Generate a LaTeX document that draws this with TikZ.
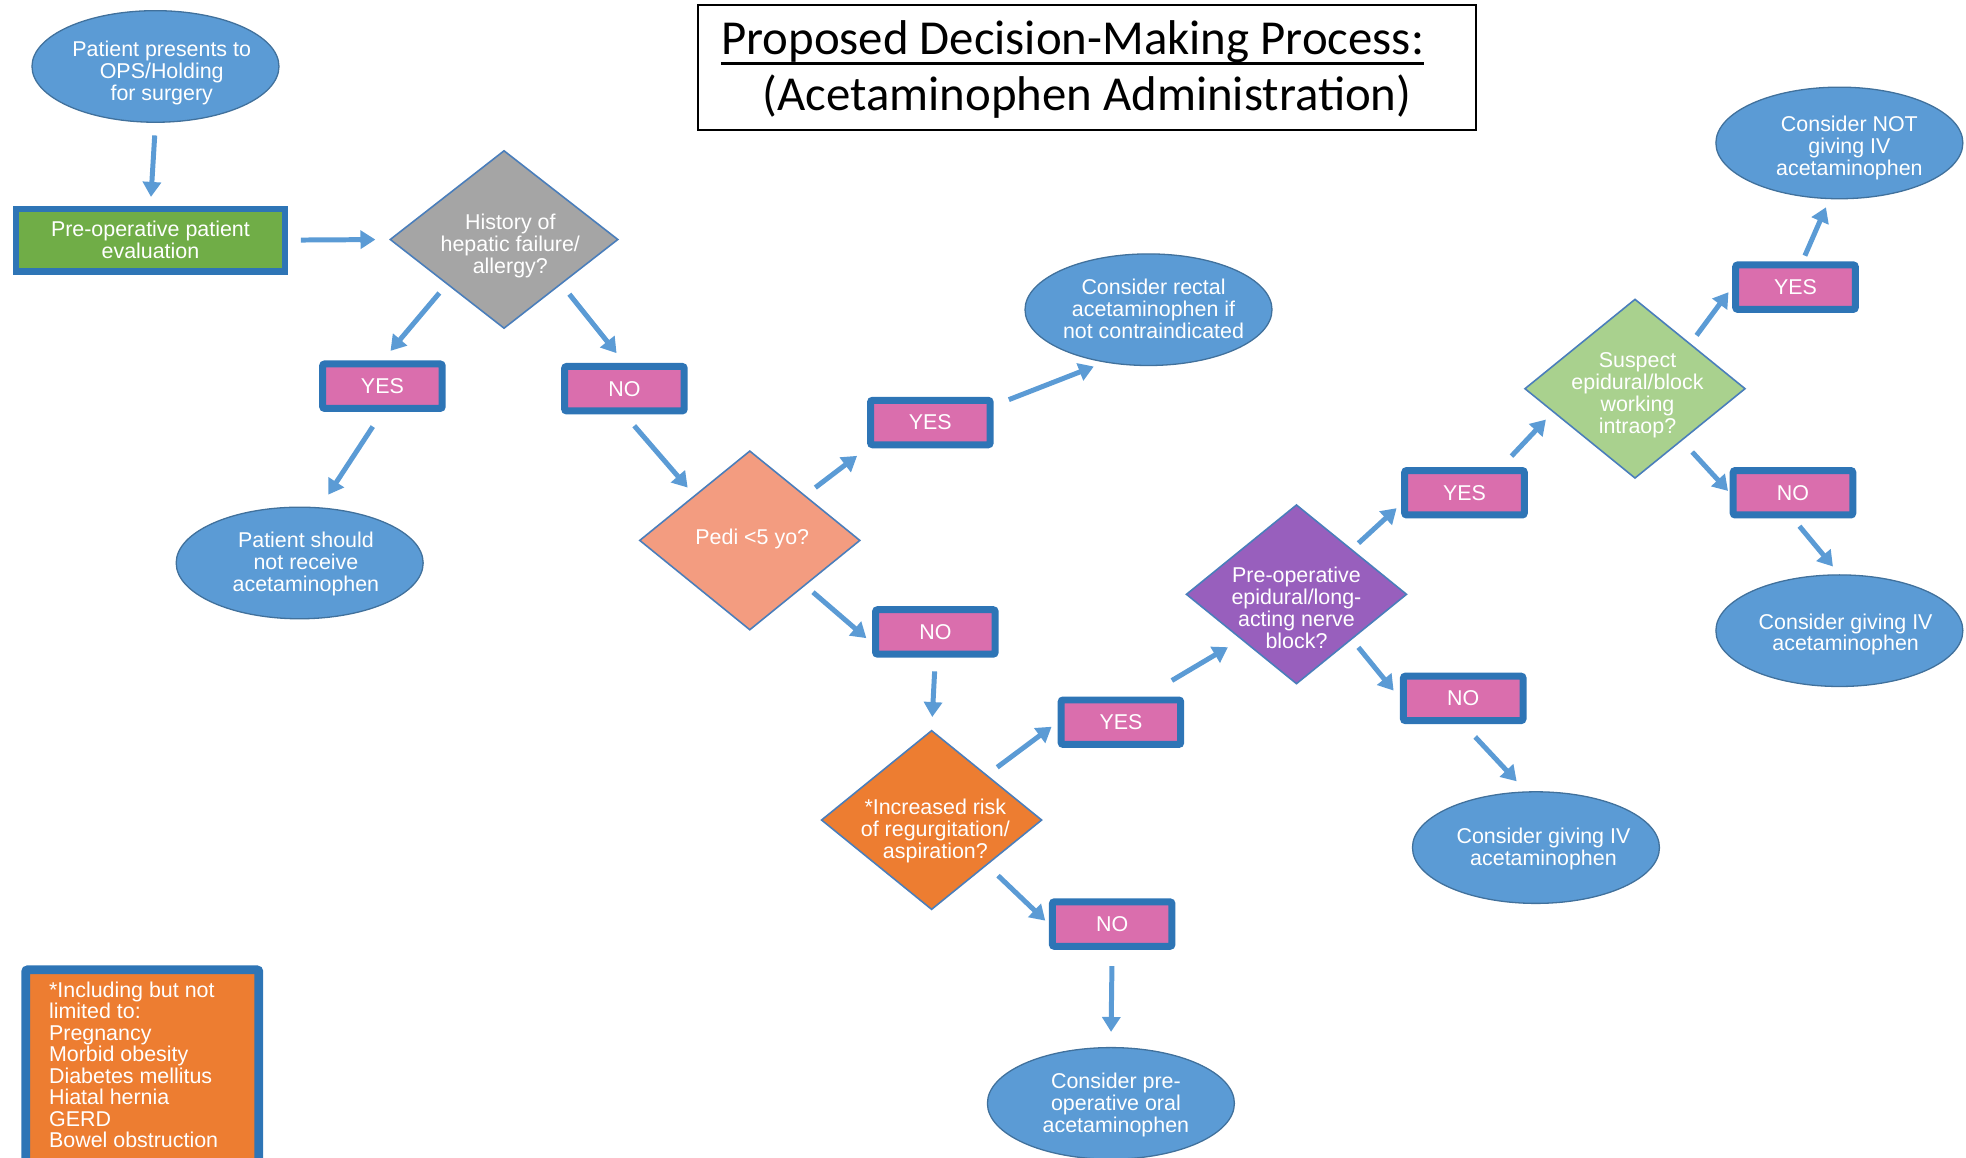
\documentclass[tikz,border=0pt]{standalone}
\usepackage{fontspec}
\setmainfont{Liberation Sans}
\newfontfamily\titlefont{Carlito}
\usetikzlibrary{shapes.geometric,arrows.meta}
\definecolor{ellblue}{HTML}{5B9BD5}
\definecolor{ellline}{HTML}{41719C}
\definecolor{boxblue}{HTML}{2E75B6}
\definecolor{boxpink}{HTML}{DA6EAD}
\definecolor{evgreen}{HTML}{70AD47}
\definecolor{dgray}{HTML}{A5A5A5}
\definecolor{salmon}{HTML}{F39C80}
\definecolor{orng}{HTML}{ED7D31}
\definecolor{purp}{HTML}{985FBD}
\definecolor{lgreen}{HTML}{A9D18E}
\definecolor{arrowblue}{HTML}{5B9BD5}
\definecolor{dline}{HTML}{4A7EBB}
\tikzset{
  txt/.style={text=white, align=center, font=\fontsize{21.5pt}{22pt}\selectfont, inner sep=0pt},
  ell/.style={ellipse, fill=ellblue, draw=ellline, line width=1.3pt, minimum width=247.9pt, minimum height=112pt, inner sep=0pt},
  dia/.style={diamond, draw=dline, line width=1.6pt, inner sep=0pt, minimum width=221.5pt, minimum height=180pt},
  yn/.style={rectangle, rounded corners=2pt, fill=boxpink, draw=boxblue, line width=7pt, minimum width=120pt, minimum height=44.6pt, inner sep=0pt, text=white, font=\fontsize{21.5pt}{22pt}\selectfont},
  greenbox/.style={rectangle, fill=evgreen, draw=boxblue, line width=6.3pt, minimum width=270.6pt, minimum height=62.9pt, inner sep=0pt, text=white, align=center, font=\fontsize{21.5pt}{22pt}\selectfont},
  legendbox/.style={rectangle, rounded corners=2pt, fill=orng, draw=boxblue, line width=8.8pt, minimum width=234pt, minimum height=239pt, inner sep=0pt},
  titlef/.style={font=\titlefont\fontsize{49pt}{56pt}\selectfont, inner sep=0pt, text=black},
  arr/.style={draw=arrowblue, line width=5pt, -{Triangle[length=15pt,width=18pt]}},
}
\begin{document}
\begin{tikzpicture}[x=1.2585pt, y=-1.2585pt]
\useasboundingbox (0,0) rectangle (1568,923);

% title
\node[draw=black, line width=2pt, minimum width=780.3pt, minimum height=125.9pt, inner sep=0pt] (titlebox) at (867,54) {};
\node[titlef, anchor=base] (title1) at (855.5,43.5) {Proposed Decision-Making Process:};
\node[titlef, anchor=base] (title2) at (867,88.5) {(Acetaminophen Administration)};
\draw[line width=3pt] (title1.south west) -- (title1.south east);

% ellipses
\node[ell] (start) at (124,53) {};
\node[txt] (startT) at (129,58) {Patient presents to\\OPS/Holding\\for surgery};
\node[ell] (nosafe) at (239,449) {};
\node[txt] (nosafeT) at (244,450) {Patient should\\not receive\\acetaminophen};
\node[ell] (rectal) at (916,247) {};
\node[txt] (rectalT) at (920,246) {Consider rectal\\acetaminophen if\\not contraindicated};
\node[ell] (oral) at (886,880) {};
\node[txt] (oralT) at (890,881) {Consider pre-\\operative oral\\acetaminophen};
\node[ell] (iv1) at (1225,676) {};
\node[txt] (iv1T) at (1231,677) {Consider giving IV\\acetaminophen};
\node[ell] (notiv) at (1467,114) {};
\node[txt] (notivT) at (1475,118) {Consider NOT\\giving IV\\acetaminophen};
\node[ell] (iv2) at (1467,503) {};
\node[txt] (iv2T) at (1472,506) {Consider giving IV\\acetaminophen};

% process box
\node[greenbox] (eval) at (120,191.5) {Pre-operative patient\\evaluation};

% diamonds
\node[dia, fill=dgray, minimum width=229pt, minimum height=178.7pt] (gray) at (402,191) {};
\node[txt] (grayT) at (407,196) {History of\\hepatic failure/\\allergy?};
\node[dia, fill=salmon] (pedi) at (598,431) {};
\node[txt] (pediT) at (600,430) {Pedi <5 yo?};
\node[dia, fill=orng] (risk) at (743,654) {};
\node[txt] (riskT) at (746,663) {*Increased risk\\of regurgitation/\\aspiration?};
\node[dia, fill=purp] (epi) at (1034,474) {};
\node[txt] (epiT) at (1034,485) {Pre-operative\\epidural/long-\\acting nerve\\block?};
\node[dia, fill=lgreen] (susp) at (1304,310) {};
\node[txt] (suspT) at (1306,315) {Suspect\\epidural/block\\working\\intraop?};

% yes / no boxes
\node[yn] (y1) at (305,308) {YES};
\node[yn] (n1) at (498,310) {NO};
\node[yn] (y2) at (742,337) {YES};
\node[yn] (n2) at (746,504) {NO};
\node[yn] (y3) at (894,576) {YES};
\node[yn] (n3) at (887,737) {NO};
\node[yn] (y4) at (1168,393) {YES};
\node[yn] (n4) at (1167,557) {NO};
\node[yn] (y5) at (1432,229) {YES};
\node[yn] (n5) at (1430,393) {NO};

% legend
\node[legendbox, anchor=north west] (legend) at (17,770) {};
\node[txt, align=left, anchor=north west, font=\fontsize{21.5pt}{21.5pt}\selectfont] (legendT) at (39,783) {*Including but not\\limited to:\\Pregnancy\\Morbid obesity\\Diabetes mellitus\\Hiatal hernia\\GERD\\Bowel obstruction};

% connectors
\draw[arr, shorten <=12.6pt, shorten >=8.8pt] (start.south) -- (eval.north);
\draw[arr, shorten <=12.6pt, shorten >=13.8pt] (eval.east) -- (gray.west);
\draw[arr, shorten <=11.3pt, shorten >=12.6pt] (gray.south west) -- (y1.north);
\draw[arr, shorten <=12.6pt, shorten >=12.6pt] (gray.south east) -- (n1.north);
\draw[arr, shorten <=17.6pt, shorten >=15.1pt] (y1.south) -- (nosafe.70);
\draw[arr, shorten <=15.1pt, shorten >=10.1pt] (n1.south) -- (pedi.north west);
\draw[arr, shorten <=12.6pt, shorten >=12.6pt] (pedi.north east) -- (y2.south west);
\draw[arr, shorten <=16.4pt, shorten >=11.3pt] (y2.15) -- (rectal.230);
\draw[arr, shorten <=10.1pt, shorten >=7.6pt] (pedi.south east) -- (n2.190);
\draw[arr, shorten <=13.8pt, shorten >=12.6pt] (n2.south) -- (risk.north);
\draw[arr, shorten <=12.6pt, shorten >=7.6pt] (risk.north east) -- (y3.west);
\draw[arr, shorten <=15.1pt, shorten >=5pt] (risk.south east) -- (n3.west);
\draw[arr, shorten <=16.4pt, shorten >=15.1pt] (n3.south) -- (oral.north);
\draw[arr, shorten <=31.5pt, shorten >=15.1pt] (y3.47) -- (epi.south west);
\draw[arr, shorten <=10.1pt, shorten >=10.1pt] (epi.south east) -- (n4.west);
\draw[arr, shorten <=8.8pt, shorten >=6.3pt] (epi.north east) -- (y4.190);
\draw[arr, shorten <=17.6pt, shorten >=13.8pt] (n4.south) -- (iv1.100);
\draw[arr, shorten <=15.1pt, shorten >=10.1pt] (y4.35) -- (susp.196);
\draw[arr, shorten <=15.1pt, shorten >=2.5pt] (susp.-48) -- (n5.west);
\draw[arr, shorten <=10.1pt, shorten >=6.3pt] (susp.north east) -- (y5.west);
\draw[arr, shorten <=6.3pt, shorten >=8.8pt] (y5.75) -- (notiv.260);
\draw[arr, shorten <=10.1pt, shorten >=10.1pt] (n5.south) -- (iv2.north);
\end{tikzpicture}
\end{document}
